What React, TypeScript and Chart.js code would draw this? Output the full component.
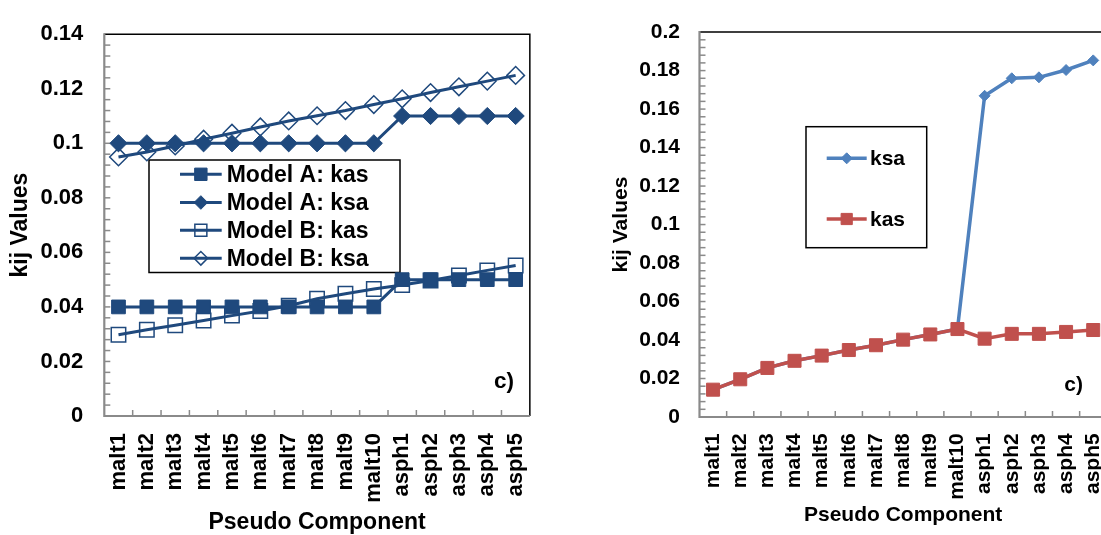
import React, { useEffect, useRef } from 'react';
import { Chart, registerables } from 'chart.js';

Chart.register(...registerables);

// ---------- data ----------
const categories = [
  'malt1', 'malt2', 'malt3', 'malt4', 'malt5', 'malt6', 'malt7', 'malt8', 'malt9', 'malt10',
  'asph1', 'asph2', 'asph3', 'asph4', 'asph5',
];

const leftSeriesNames = ['Model A: kas', 'Model A: ksa', 'Model B: kas', 'Model B: ksa'];
const modelAKas = [0.04, 0.04, 0.04, 0.04, 0.04, 0.04, 0.04, 0.04, 0.04, 0.04, 0.05, 0.05, 0.05, 0.05, 0.05];
const modelAKsa = [0.1, 0.1, 0.1, 0.1, 0.1, 0.1, 0.1, 0.1, 0.1, 0.1, 0.11, 0.11, 0.11, 0.11, 0.11];
const modelBKas = [0.0298, 0.0316, 0.0333, 0.035, 0.0368, 0.0385, 0.0404, 0.043, 0.0448, 0.0466, 0.048, 0.0497, 0.0515, 0.0534, 0.0552];
const modelBKsa = [0.095, 0.0968, 0.099, 0.1015, 0.1037, 0.106, 0.1082, 0.1101, 0.112, 0.1142, 0.1163, 0.1186, 0.1207, 0.1228, 0.1249];

const rightSeriesNames = ['ksa', 'kas'];
const rightKsa = [0.0142, 0.0196, 0.0255, 0.0292, 0.0319, 0.0348, 0.0373, 0.0402, 0.0429, 0.0457, 0.1669, 0.176, 0.1765, 0.1803, 0.1853];
const rightKas = [0.0142, 0.0196, 0.0255, 0.0292, 0.0319, 0.0348, 0.0373, 0.0402, 0.0429, 0.0457, 0.0407, 0.0432, 0.0432, 0.0442, 0.0452];

const leftYTicks = [0, 0.02, 0.04, 0.06, 0.08, 0.1, 0.12, 0.14];
const rightYTicks = [0, 0.02, 0.04, 0.06, 0.08, 0.1, 0.12, 0.14, 0.16, 0.18, 0.2];
const minorStep = 0.004;

const yTitle = 'kij Values';
const xTitle = 'Pseudo Component';
const panelTag = 'c)';

// ---------- styles ----------
const FAMILY = '"Liberation Sans", Arial, Helvetica, sans-serif';
const NAVY = '#1F497D';
const BLUE = '#4F81BD';
const RED = '#C0504D';
const AXIS_GRAY = '#8a8a8a';

type Marker = { style: 'rect' | 'rectRot'; r: number; filled: boolean; lw: number };
type LegendItem = { text: string; color: string; marker: Marker; lineWidth: number };
type Decor = {
  tickLen: number;
  legend: {
    x: number; y: number; w: number; h: number;
    rowsY: number[]; lineX0: number; lineX1: number; textX: number;
    font: string; items: LegendItem[];
  };
  tag: { dx: number; dy: number; font: string };
};

function drawMarker(ctx: CanvasRenderingContext2D, m: Marker, x: number, y: number, color: string) {
  ctx.beginPath();
  if (m.style === 'rect') {
    ctx.rect(x - m.r, y - m.r, 2 * m.r, 2 * m.r);
  } else {
    ctx.moveTo(x - m.r, y);
    ctx.lineTo(x, y - m.r);
    ctx.lineTo(x + m.r, y);
    ctx.lineTo(x, y + m.r);
    ctx.closePath();
  }
  if (m.filled) {
    ctx.fillStyle = color;
    ctx.fill();
  }
  ctx.lineWidth = m.lw;
  ctx.strokeStyle = color;
  ctx.stroke();
}

function decorPlugin(d: Decor) {
  return {
    id: 'decor',
    beforeDatasetsDraw(chart: any) {
      const { ctx, chartArea } = chart;
      const { left, right, top, bottom } = chartArea;
      const xs = chart.scales.x;
      const ys = chart.scales.y;
      ctx.save();
      // ticks (inside)
      ctx.strokeStyle = AXIS_GRAY;
      ctx.lineWidth = 1.5;
      const n = Math.round((ys.max - ys.min) / minorStep);
      for (let k = 1; k < n; k++) {
        const py = ys.getPixelForValue(ys.min + k * minorStep);
        ctx.beginPath();
        ctx.moveTo(left, py);
        ctx.lineTo(left + d.tickLen, py);
        ctx.stroke();
      }
      for (let i = 1; i < categories.length; i++) {
        const px = (xs.getPixelForValue(i - 1) + xs.getPixelForValue(i)) / 2;
        ctx.beginPath();
        ctx.moveTo(px, bottom);
        ctx.lineTo(px, bottom - d.tickLen);
        ctx.stroke();
      }
      // frame top/right
      ctx.strokeStyle = '#000';
      ctx.lineWidth = 1.5;
      ctx.beginPath();
      ctx.moveTo(left, top);
      ctx.lineTo(right, top);
      ctx.lineTo(right, bottom);
      ctx.stroke();
      // axes
      ctx.strokeStyle = AXIS_GRAY;
      ctx.lineWidth = 2.2;
      ctx.beginPath();
      ctx.moveTo(left, top - 1);
      ctx.lineTo(left, bottom);
      ctx.lineTo(right, bottom);
      ctx.stroke();

      // legend
      const L = d.legend;
      ctx.fillStyle = '#fff';
      ctx.fillRect(L.x, L.y, L.w, L.h);
      ctx.strokeStyle = '#000';
      ctx.lineWidth = 1.5;
      ctx.strokeRect(L.x, L.y, L.w, L.h);
      L.items.forEach((it, i) => {
        const y = L.rowsY[i];
        ctx.strokeStyle = it.color;
        ctx.lineWidth = it.lineWidth;
        ctx.beginPath();
        ctx.moveTo(L.lineX0, y);
        ctx.lineTo(L.lineX1, y);
        ctx.stroke();
        drawMarker(ctx, it.marker, (L.lineX0 + L.lineX1) / 2, y, it.color);
        ctx.fillStyle = '#000';
        ctx.font = L.font;
        ctx.textAlign = 'left';
        ctx.textBaseline = 'middle';
        ctx.fillText(it.text, L.textX, y + 1);
      });

      // panel tag
      ctx.fillStyle = '#000';
      ctx.font = d.tag.font;
      ctx.textAlign = 'right';
      ctx.textBaseline = 'middle';
      ctx.fillText(panelTag, right - d.tag.dx, bottom - d.tag.dy);
      ctx.restore();
    },
  };
}

type PanelCfg = {
  datasets: any[];
  yMax: number;
  yTicks: number[];
  yAxisWidth: number;
  xAxisHeight: number;
  padTop: number;
  padRight: number;
  tickFont: number;
  titleFont: number;
  yTickPad: number;
  xTickPad: number;
  yTitlePad: number;
  xTitlePad: number;
  decor: Decor;
};

function buildConfig(p: PanelCfg): any {
  const tickFont = { family: FAMILY, size: p.tickFont, weight: 'bold' as const };
  const titleFont = { family: FAMILY, size: p.titleFont, weight: 'bold' as const, lineHeight: 1 };
  return {
    type: 'line',
    data: { labels: categories, datasets: p.datasets },
    options: {
      responsive: false,
      maintainAspectRatio: false,
      animation: false,
      devicePixelRatio: 1,
      events: [],
      layout: { padding: { left: 0, top: p.padTop, right: p.padRight, bottom: 0 } },
      plugins: { legend: { display: false }, tooltip: { enabled: false } },
      scales: {
        x: {
          type: 'category',
          offset: true,
          afterFit: (s: any) => { s.height = p.xAxisHeight; },
          grid: { display: false, drawTicks: false },
          border: { display: false },
          ticks: {
            autoSkip: false, minRotation: 90, maxRotation: 90,
            padding: p.xTickPad, color: '#000', font: tickFont,
          },
          title: {
            display: true, text: xTitle, color: '#000', font: titleFont,
            padding: { top: 0, bottom: p.xTitlePad },
          },
        },
        y: {
          type: 'linear',
          min: 0,
          max: p.yMax,
          afterBuildTicks: (s: any) => { s.ticks = p.yTicks.map((v) => ({ value: v })); },
          afterFit: (s: any) => { s.width = p.yAxisWidth; },
          grid: { display: false, drawTicks: false },
          border: { display: false },
          ticks: {
            padding: p.yTickPad, color: '#000', font: tickFont,
            callback: (v: any) => String(+Number(v).toFixed(3)),
          },
          title: {
            display: true, text: yTitle, color: '#000', font: titleFont,
            padding: { top: p.yTitlePad, bottom: 0 },
          },
        },
      },
    },
    plugins: [decorPlugin(p.decor)],
  };
}

const lineDs = (label: string, data: number[], color: string, m: Marker, width: number, extra: any = {}) => ({
  label,
  data,
  borderColor: color,
  backgroundColor: color,
  borderWidth: width,
  tension: 0,
  pointStyle: m.style,
  pointRadius: m.r,
  pointBorderWidth: m.lw,
  pointBorderColor: color,
  pointBackgroundColor: m.filled ? color : 'rgba(0,0,0,0)',
  ...extra,
});

// left markers
const mAKas: Marker = { style: 'rect', r: 9.7, filled: true, lw: 1 };
const mAKsa: Marker = { style: 'rectRot', r: 8.6, filled: true, lw: 1 };
const mBKas: Marker = { style: 'rect', r: 10.2, filled: false, lw: 1.5 };
const mBKsa: Marker = { style: 'rectRot', r: 8.8, filled: false, lw: 1.5 };
// right markers
const mKsa: Marker = { style: 'rectRot', r: 5.5, filled: true, lw: 1 };
const mKas: Marker = { style: 'rect', r: 9.2, filled: true, lw: 1 };

const leftConfig = () =>
  buildConfig({
    datasets: [
      lineDs(leftSeriesNames[0], modelAKas, NAVY, mAKas, 3),
      lineDs(leftSeriesNames[1], modelAKsa, NAVY, mAKsa, 3),
      lineDs(leftSeriesNames[2], modelBKas, NAVY, mBKas, 3),
      lineDs(leftSeriesNames[3], modelBKsa, NAVY, mBKsa, 3),
    ],
    yMax: 0.14,
    yTicks: leftYTicks,
    yAxisWidth: 104.3,
    xAxisHeight: 119,
    padTop: 24,
    padRight: 28.2,
    tickFont: 22,
    titleFont: 23,
    yTickPad: 21,
    xTickPad: 17,
    yTitlePad: 9,
    xTitlePad: 0.5,
    decor: {
      tickLen: 6,
      legend: {
        x: 149, y: 160, w: 251, h: 112.5,
        rowsY: [174.3, 202.5, 230.3, 258.3],
        lineX0: 180, lineX1: 221.7, textX: 226.7,
        font: `bold 23px ${FAMILY}`,
        items: [
          { text: leftSeriesNames[0], color: NAVY, marker: { style: 'rect', r: 6.2, filled: true, lw: 1 }, lineWidth: 3 },
          { text: leftSeriesNames[1], color: NAVY, marker: { style: 'rectRot', r: 6.8, filled: true, lw: 1 }, lineWidth: 3 },
          { text: leftSeriesNames[2], color: NAVY, marker: { style: 'rect', r: 6, filled: false, lw: 1.5 }, lineWidth: 3 },
          { text: leftSeriesNames[3], color: NAVY, marker: { style: 'rectRot', r: 6.8, filled: false, lw: 1.5 }, lineWidth: 3 },
        ],
      },
      tag: { dx: 15.8, dy: 34, font: `bold 22.5px ${FAMILY}` },
    },
  });

const rightConfig = () =>
  buildConfig({
    datasets: [
      lineDs(rightSeriesNames[0], rightKsa, BLUE, mKsa, 3.5, { order: 1 }),
      lineDs(rightSeriesNames[1], rightKas, RED, mKas, 3.5, { order: 0 }),
    ],
    yMax: 0.2,
    yTicks: rightYTicks,
    yAxisWidth: 119.5,
    xAxisHeight: 118,
    padTop: 22,
    padRight: 33.2,
    tickFont: 21,
    titleFont: 21,
    yTickPad: 19.5,
    xTickPad: 16.3,
    yTitlePad: 31.2,
    xTitlePad: 9.5,
    decor: {
      tickLen: 6,
      legend: {
        x: 226, y: 126.7, w: 120.7, h: 121,
        rowsY: [158.3, 219],
        lineX0: 246.7, lineX1: 286.7, textX: 290,
        font: `bold 21px ${FAMILY}`,
        items: [
          { text: rightSeriesNames[0], color: BLUE, marker: { style: 'rectRot', r: 5.5, filled: true, lw: 1 }, lineWidth: 3.5 },
          { text: rightSeriesNames[1], color: RED, marker: { style: 'rect', r: 5.6, filled: true, lw: 1 }, lineWidth: 3.5 },
        ],
      },
      tag: { dx: 23.8, dy: 32, font: `bold 21px ${FAMILY}` },
    },
  });

export default function App() {
  const leftRef = useRef<HTMLCanvasElement>(null);
  const rightRef = useRef<HTMLCanvasElement>(null);

  useEffect(() => {
    const c1 = new Chart(leftRef.current as HTMLCanvasElement, leftConfig());
    const c2 = new Chart(rightRef.current as HTMLCanvasElement, rightConfig());
    return () => {
      c1.destroy();
      c2.destroy();
    };
  }, []);

  return (
    <div
      style={{
        position: 'absolute', left: 0, top: 0, width: 1101, height: 535,
        overflow: 'hidden', background: '#fff',
      }}
    >
      <canvas
        ref={leftRef}
        width={560}
        height={535}
        style={{ position: 'absolute', left: 0, top: 0, width: 560, height: 535 }}
      />
      <canvas
        ref={rightRef}
        width={560}
        height={535}
        style={{ position: 'absolute', left: 580, top: 0, width: 560, height: 535 }}
      />
    </div>
  );
}
